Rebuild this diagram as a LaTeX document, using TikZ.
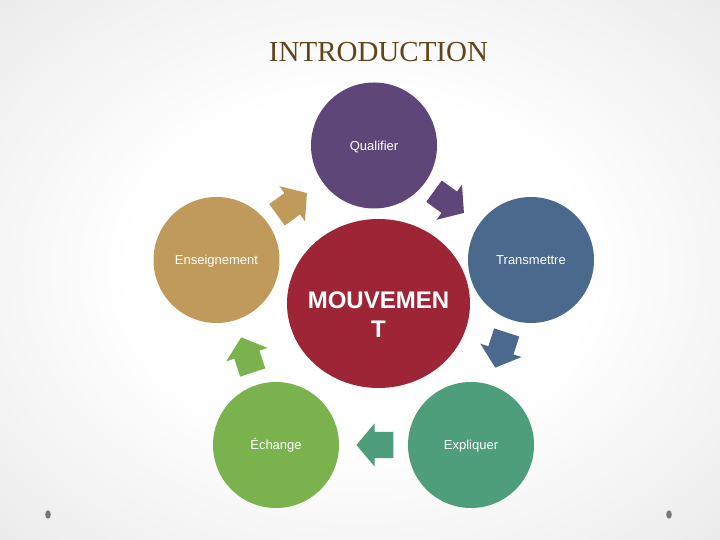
\documentclass[tikz,border=0pt]{standalone}
\usepackage{fontspec}
\setmainfont{Liberation Sans}
\newfontfamily\titlefont{Liberation Serif}
\usepackage{xcolor}
\usetikzlibrary{shapes.geometric,shapes.arrows}
\definecolor{qualpurple}{RGB}{94,71,120}
\definecolor{transblue}{RGB}{74,105,140}
\definecolor{explteal}{RGB}{78,158,124}
\definecolor{echgreen}{RGB}{122,178,78}
\definecolor{enstan}{RGB}{192,154,90}
\definecolor{mouvred}{RGB}{158,37,54}
\definecolor{titlebrown}{RGB}{98,68,26}
\definecolor{dotgrey}{RGB}{120,120,120}
\pgfdeclareradialshading{slidebg}{\pgfpoint{0bp}{0bp}}{color(0bp)=(white); color(16bp)=(white); color(72bp)=(black!22)}

\begin{document}
\begin{tikzpicture}[x=1pt, y=1pt,
  stage/.style={circle, minimum size=126pt, inner sep=0pt, text=white, text height=9.3pt, text depth=0pt, font=\fontsize{13}{15}\selectfont},
  turn/.style={single arrow, minimum height=37pt, minimum width=43pt, inner sep=0pt, inner ysep=13pt, single arrow head extend=8.5pt, single arrow tip angle=100}]

\useasboundingbox (0,0) rectangle (720,540);
\shade[shading=slidebg] (0,0) rectangle (720,540);

\node (title) at (378.5,478) [anchor=base, text=titlebrown, font=\titlefont\fontsize{29}{32}\selectfont]{INTRODUCTION};

% arrows between the stages
\node (ens2qual) at (287.5,332.8) [turn, fill=enstan, rotate=36]{};
\node (qual2trans) at (444.5,341.2) [turn, fill=qualpurple, rotate=-36]{};
\node (trans2expl) at (502.7,195.2) [turn, fill=transblue, rotate=-108]{};
\node (expl2ech) at (380.5,95) [turn, fill=explteal, rotate=180]{};
\node (ech2ens) at (248.7,179.8) [turn, fill=echgreen, rotate=108]{};

% stages
\node (qualifier) at (374,394.5) [stage, fill=qualpurple]{Qualifier};
\node (transmettre) at (531,280) [stage, fill=transblue]{Transmettre};
\node (expliquer) at (471,95) [stage, fill=explteal]{Expliquer};
\node (echange) at (276,95) [stage, fill=echgreen]{Échange};
\node (enseignement) at (216.5,280) [stage, fill=enstan]{Enseignement};

\node (mouvement) at (378.5,236.5) [ellipse, minimum width=183pt, minimum height=169pt, fill=mouvred]{};
\node (mouvlabel) at ([yshift=-11.5pt]mouvement.center) [align=center, text=white, font=\fontsize{24}{29}\selectfont\bfseries]{MOUVEMEN\\T};

\fill[dotgrey] (48,25.5) ellipse (2.8 and 4.2);
\fill[dotgrey] (669,25.5) ellipse (2.8 and 4.2);

\end{tikzpicture}
\end{document}
